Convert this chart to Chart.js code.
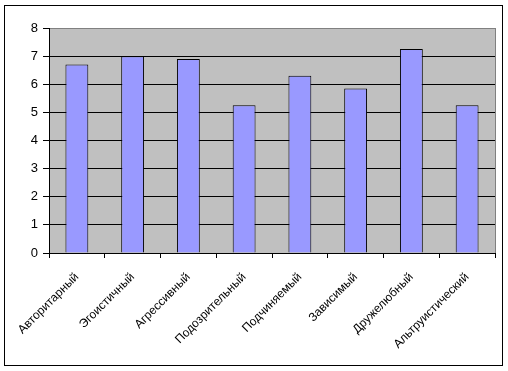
<!DOCTYPE html>
<html>
<head>
<meta charset="utf-8">
<script src="https://cdn.jsdelivr.net/npm/chart.js@4/dist/chart.umd.min.js"></script>
<style>
  html, body { margin: 0; padding: 0; background: #fff; }
  #wrap { width: 508px; height: 371px; position: relative; }
</style>
</head>
<body>
<div id="wrap"><canvas id="chart" width="508" height="371"></canvas></div>
<script>
const categories = ['Авторитарный', 'Эгоистичный', 'Агрессивный', 'Подозрительный',
  'Подчиняемый', 'Зависимый', 'Дружелюбный', 'Альтруистический'];
const values = [6.7, 7.0, 6.9, 5.25, 6.3, 5.85, 7.25, 5.25];
const yMin = 0, yMax = 8, yStep = 1;

// серый фон области построения + внешняя рамка
const frame = {
  id: 'frame',
  beforeDraw(chart) {
    const c = chart.ctx, a = chart.chartArea;
    c.save();
    c.fillStyle = '#fff';
    c.fillRect(0, 0, chart.width, chart.height);
    c.fillStyle = '#C0C0C0';
    c.fillRect(a.left, a.top, a.right - a.left, a.bottom - a.top);
    c.strokeStyle = '#000';
    c.lineWidth = 1;
    c.strokeRect(4.5, 5.5, 498, 360);
    c.restore();
  },
  afterDatasetsDraw(chart) {
    const c = chart.ctx, a = chart.chartArea;
    c.save();
    c.strokeStyle = '#808080';
    c.lineWidth = 1;
    c.beginPath();
    c.moveTo(Math.round(a.right) + 0.5, a.top);
    c.lineTo(Math.round(a.right) + 0.5, a.bottom);
    c.stroke();
    c.restore();
  }
};

new Chart(document.getElementById('chart'), {
  type: 'bar',
  data: {
    labels: categories,
    datasets: [{
      data: values,
      backgroundColor: '#9999FF',
      borderColor: '#000',
      borderWidth: 1,
      categoryPercentage: 1,
      barPercentage: 0.41
    }]
  },
  options: {
    responsive: false,
    animation: false,
    layout: { padding: { top: 28, right: 13, left: 0, bottom: 0 } },
    plugins: { legend: { display: false }, tooltip: { enabled: false } },
    scales: {
      x: {
        afterFit(scale) { scale.height = 118; },
        grid: { offset: true, drawOnChartArea: false, drawTicks: true, tickLength: 5, color: '#000' },
        border: { color: '#000' },
        ticks: {
          minRotation: 45, maxRotation: 45, autoSkip: false,
          color: '#000', padding: 12,
          font: { family: 'Liberation Sans', size: 12 }
        }
      },
      y: {
        min: yMin, max: yMax,
        afterFit(scale) { scale.width = 49; },
        grid: {
          color: ctx => ctx.tick && ctx.tick.value === yMax ? '#808080' : '#000',
          tickColor: '#000', tickLength: 6
        },
        border: { color: '#000' },
        ticks: {
          stepSize: yStep, color: '#000', padding: 5,
          font: { family: 'Liberation Sans', size: 13 }
        }
      }
    }
  },
  plugins: [frame]
});
</script>
</body>
</html>
